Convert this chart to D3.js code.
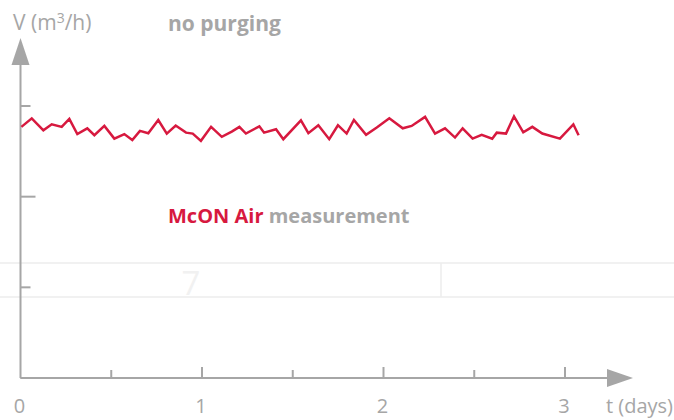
<!DOCTYPE html>
<html>
<head>
<meta charset="utf-8">
<script src="https://cdn.jsdelivr.net/npm/d3@7"></script>
<style>
  body { margin: 0; background: #fff; }
  svg { display: block; font-family: "Open Sans", "Noto Sans", sans-serif; }
</style>
</head>
<body>
<div id="chart"></div>
<script>
// datos
let days = [0.005, 0.062, 0.126, 0.172, 0.227, 0.269, 0.313, 0.368, 0.407, 0.462,
    0.517, 0.572, 0.616, 0.658, 0.704, 0.759, 0.806, 0.855, 0.912, 0.949,
    0.994, 1.050, 1.109, 1.164, 1.206, 1.242, 1.316, 1.342, 1.408, 1.448,
    1.545, 1.586, 1.641, 1.701, 1.749, 1.797, 1.837, 1.904, 1.963, 2.032,
    2.106, 2.155, 2.229, 2.284, 2.339, 2.394, 2.436, 2.491, 2.541, 2.599,
    2.624, 2.675, 2.719, 2.770, 2.820, 2.875, 2.972, 3.046, 3.075];
let flow = [1.385, 1.432, 1.366, 1.399, 1.385, 1.429, 1.345, 1.377, 1.339, 1.390,
    1.320, 1.345, 1.312, 1.363, 1.350, 1.423, 1.348, 1.392, 1.353, 1.348,
    1.308, 1.385, 1.330, 1.359, 1.385, 1.348, 1.388, 1.353, 1.372, 1.317,
    1.421, 1.350, 1.394, 1.317, 1.394, 1.348, 1.423, 1.341, 1.381, 1.432,
    1.377, 1.390, 1.440, 1.348, 1.377, 1.326, 1.377, 1.320, 1.341, 1.320,
    1.353, 1.348, 1.443, 1.355, 1.385, 1.348, 1.320, 1.399, 1.339];
let xTicks = [0.5, 1, 1.5, 2, 2.5, 3];
let xLabels = [0, 1, 2, 3];
let yTicks = [0, 0.5, 1, 1.5];

let width = 674;
let height = 420;
let grey = '#a6a6a6';
let red = '#d7193f';

let x = d3.scaleLinear().domain([0, 3]).range([20.5, 565]);
let y = d3.scaleLinear().domain([0, 1.5]).range([378, 106]);

let svg = d3.select('#chart').append('svg')
    .attr('width', width)
    .attr('height', height);

// lineas tenues de fondo (restos de tabla)
let bg = svg.append('g').attr('stroke', '#ececec').attr('stroke-width', 1.5);
bg.append('line').attr('x1', 0).attr('x2', width).attr('y1', 263).attr('y2', 263);
bg.append('line').attr('x1', 0).attr('x2', width).attr('y1', 297).attr('y2', 297);
bg.append('line').attr('x1', 441).attr('x2', 441).attr('y1', 263).attr('y2', 297);
svg.append('text')
    .attr('x', 191).attr('y', 295)
    .attr('text-anchor', 'middle')
    .style('font-size', '33px')
    .style('fill', '#f1f1f1')
    .text('7');

// ejes
let axes = svg.append('g').attr('stroke', grey).attr('stroke-width', 2).attr('fill', 'none');
axes.append('line').attr('x1', x(0)).attr('x2', 612).attr('y1', y(0)).attr('y2', y(0));
axes.append('line').attr('x1', x(0)).attr('x2', x(0)).attr('y1', y(0)).attr('y2', 60);

svg.append('path')
    .attr('d', `M607,369 L633,378 L607,387 Z`)
    .attr('fill', grey);
svg.append('path')
    .attr('d', `M${x(0) - 9},65 L${x(0)},38 L${x(0) + 9},65 Z`)
    .attr('fill', grey);

axes.selectAll('.xtick')
    .data(xTicks)
    .join('line')
    .attr('class', 'xtick')
    .attr('x1', d => x(d)).attr('x2', d => x(d))
    .attr('y1', y(0))
    .attr('y2', d => y(0) - (d % 1 === 0 ? 11 : 8));

axes.selectAll('.ytick')
    .data(yTicks)
    .join('line')
    .attr('class', 'ytick')
    .attr('y1', d => y(d)).attr('y2', d => y(d))
    .attr('x1', x(0))
    .attr('x2', d => x(0) + (d % 1 === 0 ? 15 : 10));

svg.selectAll('.xlabel')
    .data(xLabels)
    .join('text')
    .attr('class', 'xlabel')
    .attr('x', d => x(d) - 1)
    .attr('y', 413)
    .attr('text-anchor', 'middle')
    .style('font-size', '20px')
    .style('fill', grey)
    .text(d => d);

svg.append('text')
    .attr('x', 673).attr('y', 413)
    .attr('text-anchor', 'end')
    .style('font-size', '20px')
    .style('fill', grey)
    .text('t (days)');

let yl = svg.append('text')
    .attr('x', 13).attr('y', 30)
    .style('font-size', '21px')
    .style('fill', grey);
yl.append('tspan').text('V (m');
yl.append('tspan').attr('dy', -7).style('font-size', '14px').text('3');
yl.append('tspan').attr('dy', 7).text('/h)');

svg.append('text')
    .attr('x', 168).attr('y', 31)
    .style('font-size', '21px')
    .style('font-weight', 'bold')
    .style('fill', grey)
    .text('no purging');

let lbl = svg.append('text')
    .attr('x', 168).attr('y', 223)
    .style('font-size', '20px')
    .style('font-weight', 'bold');
lbl.append('tspan').style('fill', red).text('McON Air');
lbl.append('tspan').style('fill', grey).text(' measurement');

// serie
let pts = days.map((d, i) => [d, flow[i]]);
let line = d3.line().x(d => x(d[0])).y(d => y(d[1]));
svg.append('path')
    .datum(pts)
    .attr('d', line)
    .attr('fill', 'none')
    .attr('stroke', red)
    .attr('stroke-width', 2.5)
    .attr('stroke-linejoin', 'miter');
</script>
</body>
</html>
